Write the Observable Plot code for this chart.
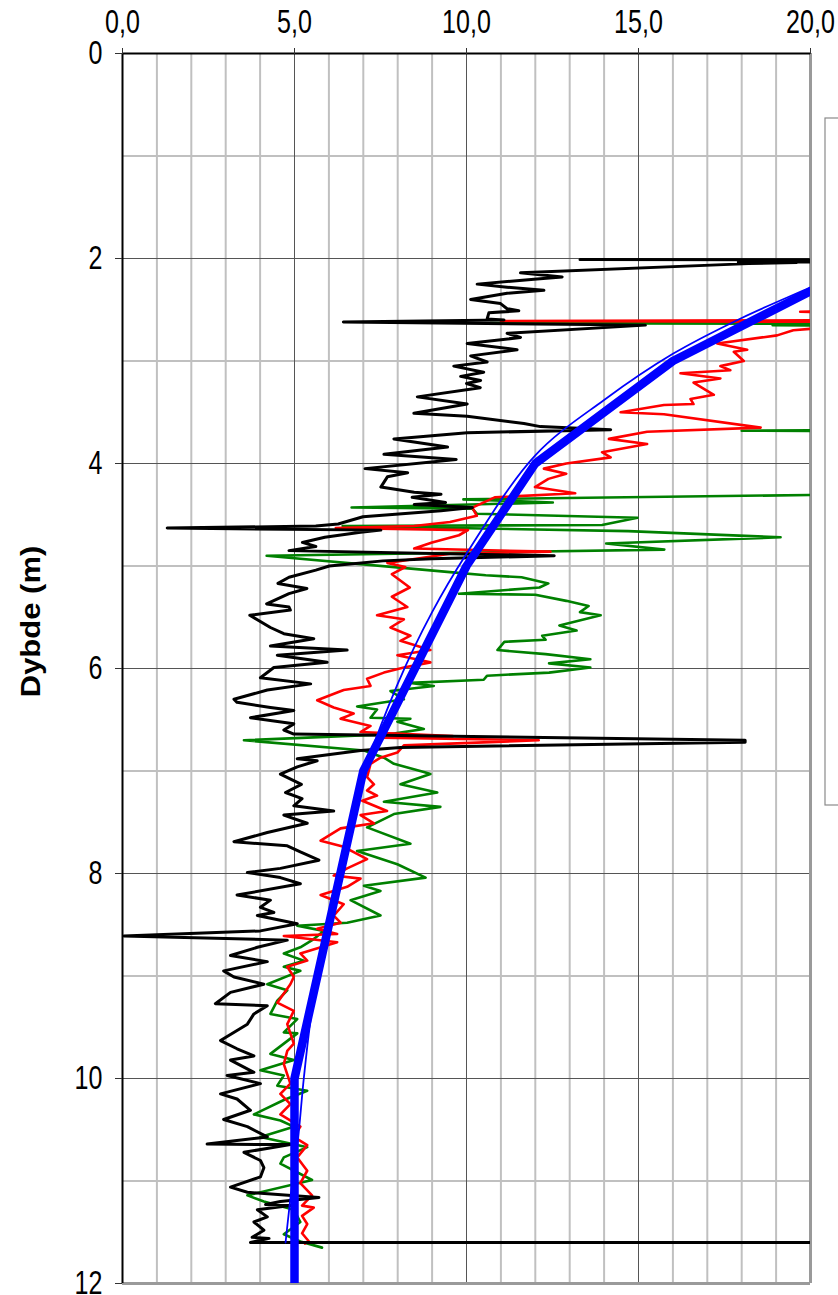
<!DOCTYPE html>
<html><head><meta charset="utf-8">
<script src="https://cdn.jsdelivr.net/npm/d3@7"></script>
<script src="https://cdn.jsdelivr.net/npm/@observablehq/plot@0.6"></script>
<style>body{margin:0;background:#fff}</style>
</head><body><div id="chart"></div>
<script>
// tick values
const xTicks = [0, 5, 10, 15, 20];
const yTicks = [0, 2, 4, 6, 8, 10, 12];
const xMinor = [1,2,3,4,6,7,8,9,11,12,13,14,16,17,18,19];
const xMajor = [5, 10, 15];
const yMinor = [1,3,5,7,9,11];
const yMajor = [2,4,6,8,10];

// series: [value, depth (m)]
const black = [
[13.3,2.01],[24,2.012],[24,2.03],[17.9,2.035],[19.6,2.04],[18.2,2.05],[11.57,2.14],[12.78,2.18],[12.05,2.2],[10.31,2.25],[11.18,2.28],[12.25,2.31],[11.18,2.34],[10.12,2.40],[10.99,2.44],[11.18,2.49],[11.52,2.51],[10.65,2.53],[10.6,2.59],[11.09,2.60],[6.42,2.62],[15.2,2.65],[11.18,2.73],[11.57,2.77],[10.02,2.83],[11.47,2.89],[10.12,2.95],[10.6,3.01],[9.63,3.05],[10.5,3.11],[9.83,3.15],[10.41,3.19],[10.0,3.22],[10.4,3.26],[8.57,3.35],[10.02,3.42],[8.47,3.51],[10.02,3.54],[11.67,3.61],[12.15,3.64],[14.19,3.67],[10.02,3.70],[7.89,3.76],[9.45,3.84],[7.6,3.91],[9.7,3.96],[7.05,4.05],[8.29,4.09],[7.70,4.13],[7.51,4.23],[8.48,4.28],[9.26,4.30],[8.42,4.33],[9.39,4.38],[8.48,4.40],[10.17,4.43],[9.26,4.46],[6.99,4.52],[6.27,4.59],[5.62,4.61],[1.3,4.63],[7.51,4.65],[6.92,4.67],[5.88,4.72],[5.23,4.77],[5.62,4.81],[4.84,4.85],[12.55,4.90],[9.0,4.93],[7.57,4.95],[6.01,5.0],[5.62,5.04],[4.84,5.11],[4.52,5.17],[5.36,5.22],[4.84,5.27],[4.19,5.37],[4.84,5.40],[4.88,5.43],[3.7,5.48],[4.30,5.60],[4.69,5.66],[5.56,5.71],[4.30,5.78],[6.53,5.82],[4.5,5.87],[5.95,5.94],[4.40,5.99],[4.01,6.09],[5.47,6.15],[4.21,6.21],[3.24,6.30],[3.33,6.33],[4.30,6.38],[4.98,6.41],[3.72,6.48],[4.98,6.54],[4.69,6.60],[4.98,6.64],[9.63,6.66],[18.1,6.70],[18.1,6.72],[8.08,6.77],[6.92,6.80],[5.08,6.88],[5.66,6.90],[5.08,6.96],[4.59,7.03],[5.2,7.13],[4.74,7.21],[5.22,7.27],[4.98,7.34],[6.14,7.39],[4.69,7.43],[5.37,7.51],[4.21,7.60],[3.24,7.69],[4.79,7.73],[5.17,7.79],[5.71,7.87],[4.59,7.95],[3.63,7.99],[4.59,8.04],[5.17,8.10],[3.33,8.21],[4.30,8.26],[4.01,8.33],[4.40,8.38],[3.92,8.41],[5.08,8.49],[4.01,8.56],[0.04,8.61],[4.79,8.65],[3.92,8.72],[3.14,8.80],[4.21,8.86],[2.94,8.95],[3.24,9.01],[4.11,9.08],[3.14,9.16],[2.70,9.27],[4.21,9.29],[3.82,9.37],[3.63,9.47],[2.85,9.63],[3.33,9.71],[3.82,9.78],[3.14,9.82],[3.82,9.94],[3.04,9.97],[4.01,10.05],[2.85,10.15],[3.33,10.20],[3.72,10.31],[2.94,10.40],[3.63,10.47],[4.21,10.57],[2.46,10.64],[4.88,10.645],[3.53,10.72],[4.01,10.80],[4.11,10.87],[4.01,10.96],[3.14,11.06],[3.63,11.11],[5.71,11.16],[4.59,11.20],[4.16,11.23],[4.88,11.24],[3.92,11.28],[4.21,11.35],[3.82,11.40],[4.11,11.48],[3.77,11.55],[4.26,11.56],[3.72,11.60],[25,11.60]
];
const red = [
[24,2.50],[19.7,2.52],[24,2.55],[24,2.60],[11.0,2.61],[24,2.62],[21,2.66],[19.5,2.70],[19.03,2.75],[17.29,2.83],[18.16,2.89],[17.77,2.91],[18.06,3.0],[17.38,3.05],[17.67,3.09],[16.22,3.12],[17.38,3.17],[16.6,3.21],[17.19,3.33],[16.51,3.37],[16.6,3.42],[15.74,3.43],[14.48,3.50],[15.74,3.52],[18.55,3.65],[15.25,3.69],[14.14,3.76],[15.25,3.81],[13.94,3.89],[14.19,3.94],[12.9,4.0],[12.25,4.05],[12.9,4.10],[12.38,4.15],[11.99,4.23],[13.16,4.29],[10.82,4.33],[10.17,4.43],[10.3,4.51],[9.52,4.57],[8.48,4.61],[6.2,4.63],[10.04,4.65],[9.78,4.70],[9.0,4.77],[8.48,4.83],[12.44,4.86],[9.52,4.88],[7.7,4.97],[8.22,5.01],[7.83,5.08],[8.35,5.21],[7.83,5.30],[8.28,5.40],[7.40,5.48],[8.18,5.52],[7.79,5.60],[8.37,5.68],[8.08,5.73],[8.95,5.82],[7.99,5.87],[8.95,5.94],[8.18,5.99],[7.60,6.04],[7.11,6.10],[7.21,6.17],[6.43,6.21],[5.66,6.31],[6.14,6.38],[6.72,6.44],[6.34,6.49],[7.21,6.56],[6.92,6.62],[9.6,6.66],[7.5,6.675],[12.1,6.70],[8.18,6.75],[7.99,6.82],[7.5,6.87],[7.21,6.93],[7.11,7.06],[7.31,7.13],[7.11,7.19],[7.40,7.24],[6.97,7.29],[7.69,7.39],[6.92,7.43],[7.31,7.51],[6.34,7.56],[5.76,7.68],[6.43,7.74],[7.11,7.86],[6.53,7.95],[6.14,8.02],[6.92,8.05],[6.53,8.13],[5.76,8.21],[6.43,8.30],[6.14,8.41],[6.34,8.48],[5.66,8.54],[6.24,8.59],[4.69,8.61],[6.24,8.67],[5.17,8.78],[5.37,8.85],[4.79,8.91],[4.98,9.01],[4.88,9.08],[4.50,9.26],[4.98,9.34],[4.79,9.47],[4.98,9.66],[4.79,9.73],[4.69,9.86],[4.88,10.05],[4.59,10.15],[4.88,10.25],[4.59,10.35],[5.17,10.47],[4.98,10.57],[5.37,10.65],[5.08,10.77],[5.37,10.90],[5.17,11.02],[5.51,11.14],[5.22,11.24],[5.56,11.26],[5.22,11.34],[5.37,11.42],[5.22,11.51],[5.42,11.59],[5.3,11.61]
];
const green = [
[24,2.60],[10.7,2.63],[24,2.64],[18.9,2.65],[24,2.66],[24,3.67],[18.0,3.68],[24,3.69],[24,4.29],[9.91,4.35],[12.51,4.38],[6.66,4.43],[10.17,4.44],[10.3,4.49],[14.97,4.53],[13.94,4.60],[6.4,4.61],[14.7,4.66],[19.13,4.72],[14.06,4.78],[15.75,4.84],[4.19,4.90],[9.52,5.06],[10.56,5.09],[11.6,5.11],[12.38,5.17],[12.12,5.21],[9.78,5.27],[12.0,5.28],[12.9,5.34],[13.55,5.39],[13.3,5.45],[13.9,5.48],[12.7,5.58],[13.2,5.63],[12.2,5.68],[12.3,5.72],[11.1,5.74],[10.9,5.82],[12.3,5.86],[13.6,5.91],[12.4,5.95],[13.6,5.99],[12.4,6.04],[10.6,6.07],[10.5,6.11],[8.37,6.14],[9.05,6.17],[7.79,6.22],[8.18,6.30],[6.82,6.37],[7.40,6.40],[7.21,6.48],[8.37,6.49],[7.99,6.52],[8.76,6.59],[7.79,6.64],[3.53,6.70],[7.02,6.80],[7.60,6.87],[7.89,6.93],[8.76,7.01],[8.95,7.03],[8.08,7.13],[9.15,7.21],[7.60,7.30],[9.24,7.35],[7.89,7.42],[7.11,7.55],[8.37,7.71],[6.82,7.78],[7.99,7.91],[8.81,8.04],[7.02,8.12],[7.5,8.17],[6.63,8.26],[7.50,8.41],[6.53,8.48],[5.08,8.51],[5.85,8.56],[5.56,8.64],[5.17,8.72],[4.69,8.78],[5.27,8.85],[4.69,8.91],[5.17,8.95],[4.21,9.08],[4.79,9.14],[4.50,9.24],[4.30,9.37],[5.08,9.42],[4.69,9.55],[5.08,9.56],[4.30,9.76],[4.98,9.82],[4.01,9.92],[4.69,9.97],[4.50,10.07],[5.37,10.12],[4.69,10.21],[3.82,10.35],[4.59,10.41],[4.98,10.47],[4.01,10.57],[5.37,10.67],[4.69,10.77],[4.59,10.83],[5.51,10.99],[3.63,11.14],[4.11,11.20],[4.98,11.28],[5.17,11.40],[4.69,11.52],[5.17,11.59],[5.80,11.65]
];
const blueThin = [
[20.5,2.2],[20,2.28],[18,2.58],[16,2.93],[14,3.38],[12,3.92],[10,4.88],[9,5.45],[8,6.15],[7,7.05],[6.3,8.0],[5.8,8.8],[5.5,9.35],[5.27,10.0],[5.1,10.6],[4.94,11.0],[4.74,11.6]
];
const blueThick = [
[20,2.32],[16,3],[12,4],[10,5],[7,7],[5,10],[5,12]
];

const fmt = d => d.toFixed(1).replace(".", ",");
const X = d => d[0], Y = d => d[1];

const chart = Plot.plot({
  width: 838, height: 1295,
  marginLeft: 122, marginTop: 53, marginRight: 28, marginBottom: 12,
  style: {fontFamily: "'Liberation Sans', Arial, sans-serif", fontSize: "33px", color: "#000", background: "#fff"},
  x: {domain: [0, 20]},
  y: {domain: [0, 12], reverse: true},
  marks: [
    Plot.ruleX(xMinor, {stroke: "#c0c0c0", strokeWidth: 2}),
    Plot.ruleY(yMinor, {stroke: "#c0c0c0", strokeWidth: 2}),
    Plot.ruleX(xMajor, {stroke: "#555", strokeWidth: 1}),
    Plot.ruleY(yMajor, {stroke: "#555", strokeWidth: 1}),
    Plot.ruleX([20], {stroke: "#9a9a9a", strokeWidth: 3}),
    Plot.ruleY([12], {stroke: "#9a9a9a", strokeWidth: 3}),
    Plot.ruleY([0], {stroke: "#000", strokeWidth: 2}),
    Plot.ruleX([0], {stroke: "#000", strokeWidth: 2}),
    Plot.axisX({anchor: "top", ticks: xTicks, tickFormat: fmt, tickSize: 6, tickPadding: 15, label: null, stroke: "#333"}),
    Plot.axisY({anchor: "left", ticks: yTicks, tickFormat: d => String(d), tickSize: 7, tickPadding: 13, label: null, stroke: "#333"}),
    Plot.line(green, {x: X, y: Y, stroke: "#008000", strokeWidth: 2.6, clip: true}),
    Plot.line(red, {x: X, y: Y, stroke: "#ff0000", strokeWidth: 2.6, clip: true}),
    Plot.line(black, {x: X, y: Y, stroke: "#000", strokeWidth: 3, clip: true}),
    Plot.line(blueThin, {x: X, y: Y, stroke: "#0000ff", strokeWidth: 1.8, curve: "catmull-rom", clip: true}),
    Plot.line(blueThick, {x: X, y: Y, stroke: "#0000ff", strokeWidth: 8.5, clip: true}),
    Plot.text(["Dybde (m)"], {frameAnchor: "left", text: d => d, rotate: -90, dx: -91, dy: -47, fontWeight: "bold", fontSize: 31, fill: "#000", textAnchor: "middle", lineAnchor: "middle"})
  ]
});
document.getElementById("chart").appendChild(chart);

// narrow the glyphs horizontally like the reference
d3.select(chart).selectAll('g[aria-label="x-axis tick label"] text, g[aria-label="y-axis tick label"] text')
  .attr("transform", function() { return (this.getAttribute("transform") || "") + " scale(0.76,1)"; });
d3.select(chart).selectAll('g[aria-label="text"] text')
  .attr("transform", function() { return (this.getAttribute("transform") || "") + " scale(1,0.88)"; });

// empty legend box at the right edge
d3.select(chart).append("rect")
  .attr("x", 825).attr("y", 118).attr("width", 40).attr("height", 687)
  .attr("fill", "#fff").attr("stroke", "#8a8a8a").attr("stroke-width", 1.2);
</script></body></html>
